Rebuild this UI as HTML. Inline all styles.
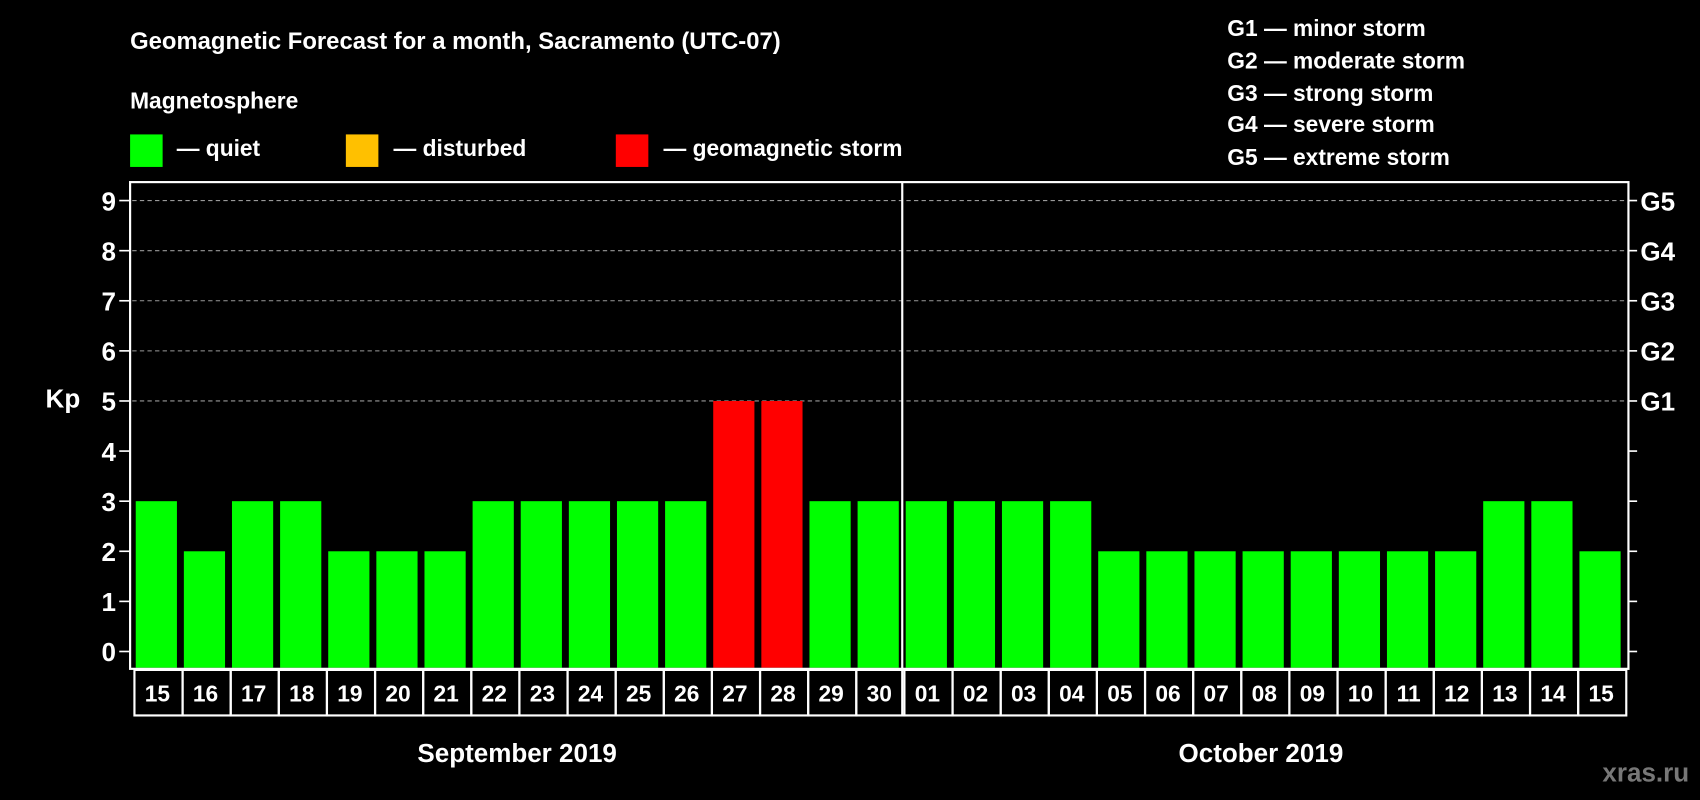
<!DOCTYPE html>
<html><head><meta charset="utf-8"><style>
html,body{margin:0;padding:0;background:#000;width:1700px;height:800px;overflow:hidden}
svg{display:block;font-family:"Liberation Sans",sans-serif;font-weight:bold}
</style></head><body>
<svg id="chart" width="1700" height="800" viewBox="0 0 1568 738" preserveAspectRatio="none">
<rect width="1568" height="738" fill="#000"/>
<text x="120" y="45" fill="#fff" font-size="22">Geomagnetic Forecast for a month, Sacramento (UTC-07)</text>
<text x="120" y="100" fill="#fff" font-size="21">Magnetosphere</text>
<rect x="120" y="124" width="30" height="30" fill="#00ff00"/>
<text x="163" y="144" fill="#fff" font-size="21">— quiet</text>
<rect x="319" y="124" width="30" height="30" fill="#ffc000"/>
<text x="363" y="144" fill="#fff" font-size="21">— disturbed</text>
<rect x="568" y="124" width="30" height="30" fill="#ff0000"/>
<text x="612" y="144" fill="#fff" font-size="21">— geomagnetic storm</text>
<g fill="#fff" font-size="21">
<text x="1132" y="33">G1 — minor storm</text>
<text x="1132" y="63">G2 — moderate storm</text>
<text x="1132" y="93">G3 — strong storm</text>
<text x="1132" y="122">G4 — severe storm</text>
<text x="1132" y="152">G5 — extreme storm</text>
</g>
<text x="58" y="376" fill="#fff" font-size="24" text-anchor="middle">Kp</text>
<g id="grid"></g><g id="bars"></g><g id="axes"></g>
<text x="477" y="703" fill="#fff" font-size="24" text-anchor="middle">September 2019</text>
<text x="1163" y="703" fill="#fff" font-size="24" text-anchor="middle">October 2019</text>
<text x="1558" y="721" fill="#777" font-size="24" text-anchor="end">xras.ru</text>
</svg>
<script>
const days=["15","16","17","18","19","20","21","22","23","24","25","26","27","28","29","30","01","02","03","04","05","06","07","08","09","10","11","12","13","14","15"];
const kp=[3,2,3,3,2,2,2,3,3,3,3,3,5,5,3,3,3,3,3,3,2,2,2,2,2,2,2,2,3,3,2];
const yTicks=[0,1,2,3,4,5,6,7,8,9];
const gLabels=["G1","G2","G3","G4","G5"];
const NS="http://www.w3.org/2000/svg";
const L=122,R=1498,T=168,B=617;
const pitch=(R-L)/days.length;
const x=i=>L+pitch*i+pitch/2;
const y=v=>601-v*46.22;
function mk(tag,at,parent,txt){const e=document.createElementNS(NS,tag);for(const k in at)e.setAttribute(k,at[k]);if(txt!==undefined)e.textContent=txt;parent.appendChild(e);return e;}
const grid=document.getElementById('grid'),bars=document.getElementById('bars'),axes=document.getElementById('axes');
yTicks.forEach(v=>{
  if(v>=5){const g=mk('line',{x1:L,x2:R,y1:y(v),y2:y(v),stroke:'#999','stroke-dasharray':'4 3','stroke-width':1},grid);
  
  }
  const t=mk('line',{x1:110,x2:120,y1:y(v),y2:y(v),stroke:'#fff','stroke-width':1.5},axes);
  
  
  const t2=mk('line',{x1:1502,x2:1510,y1:y(v),y2:y(v),stroke:'#fff','stroke-width':1.5},axes);
  
  
  const lb=mk('text',{x:107,y:y(v)+9,fill:'#fff','font-size':24,'text-anchor':'end'},axes,String(v));
  
  
});
gLabels.forEach((g,i)=>{
  const lb=mk('text',{x:1513,y:y(5+i)+9,fill:'#fff','font-size':24},axes,g);
  
  
});
kp.forEach((v,i)=>{
  const c=v>=5?'#ff0000':(v>=4?'#ffc000':'#00ff00');
  const b=mk('rect',{x:x(i)-19,y:y(v),width:38,height:B-1-y(v),fill:c},bars);
  
  
  const cell=mk('rect',{x:L+pitch*i+2,y:B+1,width:pitch,height:42,fill:'none',stroke:'#fff','stroke-width':2},axes);
  
  
  const t=mk('text',{x:x(i)+1,y:B+30,fill:'#fff','font-size':21,'text-anchor':'middle'},axes,days[i]);
  
  
});
const fr=mk('rect',{x:120,y:T,width:1382,height:B-T,fill:'none',stroke:'#fff','stroke-width':2},axes);


const dv=mk('line',{x1:L+pitch*16,x2:L+pitch*16,y1:T,y2:B+43,stroke:'#fff','stroke-width':2},axes);


</script>
</body></html>
